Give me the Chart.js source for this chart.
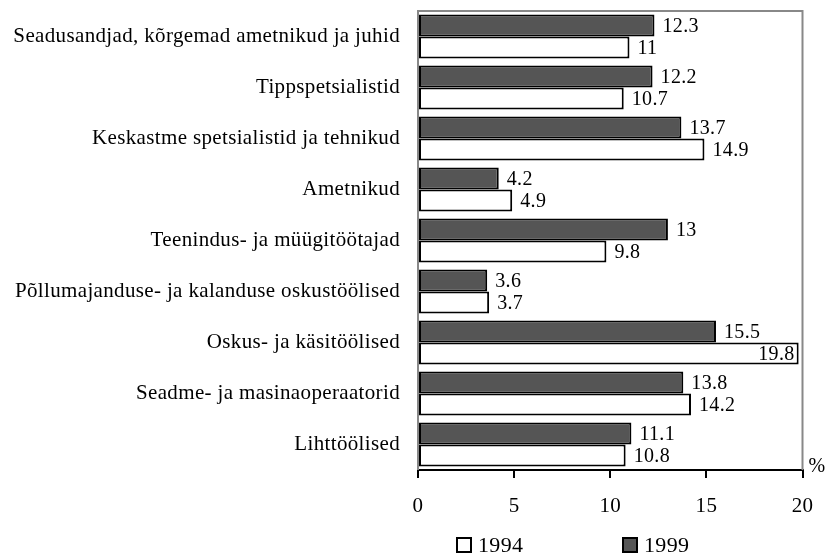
<!DOCTYPE html>
<html>
<head>
<meta charset="utf-8">
<script src="https://cdn.jsdelivr.net/npm/chart.js@4.4.1/dist/chart.umd.min.js"></script>
<style>
  body { margin: 0; background: #ffffff; }
  #wrap { width: 829px; height: 557px; }
</style>
</head>
<body>
<div id="wrap"><canvas id="chart"></canvas></div>
<script>
var categories = [
  'Seadusandjad, kõrgemad ametnikud ja juhid',
  'Tippspetsialistid',
  'Keskastme spetsialistid ja tehnikud',
  'Ametnikud',
  'Teenindus- ja müügitöötajad',
  'Põllumajanduse- ja kalanduse oskustöölised',
  'Oskus- ja käsitöölised',
  'Seadme- ja masinaoperaatorid',
  'Lihttöölised'
];
var values1999 = [12.3, 12.2, 13.7, 4.2, 13, 3.6, 15.5, 13.8, 11.1];
var values1994 = [11, 10.7, 14.9, 4.9, 9.8, 3.7, 19.8, 14.2, 10.8];
var xTicks = [0, 5, 10, 15, 20];

var serif = '"Liberation Serif", "Times New Roman", serif';

// slightly spaced text like the original
var spacingPlugin = {
  id: 'spacing',
  beforeDraw: function(chart) { chart.ctx.letterSpacing = '0.35px'; }
};

// gray frame on top, right and left of the plot
var framePlugin = {
  id: 'frame',
  beforeDatasetsDraw: function(chart) {
    var a = chart.chartArea, ctx = chart.ctx;
    ctx.save();
    ctx.strokeStyle = '#888888';
    ctx.lineWidth = 2;
    ctx.beginPath();
    ctx.moveTo(a.left, a.bottom);
    ctx.lineTo(a.left, a.top);
    ctx.lineTo(a.right, a.top);
    ctx.lineTo(a.right, a.bottom);
    ctx.stroke();
    ctx.restore();
  }
};

// value labels at bar ends, the % sign and the legend
var labelPlugin = {
  id: 'valueLabels',
  afterDatasetsDraw: function(chart) {
    var ctx = chart.ctx, a = chart.chartArea;
    ctx.save();
    ctx.font = '20px ' + serif;
    ctx.fillStyle = '#000000';
    ctx.textBaseline = 'middle';
    chart.data.datasets.forEach(function(ds, i) {
      chart.getDatasetMeta(i).data.forEach(function(bar, j) {
        var txt = String(ds.data[j]);
        var w = ctx.measureText(txt).width;
        if (bar.x + 8 + w > a.right) {
          ctx.textAlign = 'right';
          ctx.fillText(txt, bar.x - 4, bar.y + 1);
        } else {
          ctx.textAlign = 'left';
          ctx.fillText(txt, bar.x + 8, bar.y + 1);
        }
      });
    });
    ctx.textAlign = 'left';
    ctx.fillText('%', a.right + 6, a.bottom - 3);

    // legend: 1994 first, then 1999
    ctx.font = '22px ' + serif;
    var legendX = [456, 622];
    var ly = 545;
    [1, 0].forEach(function(di, k) {
      var ds = chart.data.datasets[di];
      ctx.fillStyle = ds.backgroundColor;
      ctx.fillRect(legendX[k], ly - 8, 16, 16);
      ctx.strokeStyle = '#000000';
      ctx.lineWidth = 2;
      ctx.strokeRect(legendX[k] + 1, ly - 7, 14, 14);
      ctx.fillStyle = '#000000';
      ctx.fillText(ds.label, legendX[k] + 22, ly + 1);
    });
    ctx.restore();
  }
};

new Chart(document.getElementById('chart'), {
  type: 'bar',
  data: {
    labels: categories,
    datasets: [
      {
        label: '1999',
        data: values1999,
        backgroundColor: '#555555',
        borderColor: '#000000',
        borderWidth: 2,
        borderSkipped: false
      },
      {
        label: '1994',
        data: values1994,
        backgroundColor: '#ffffff',
        borderColor: '#000000',
        borderWidth: 2,
        borderSkipped: false
      }
    ]
  },
  options: {
    indexAxis: 'y',
    responsive: true,
    maintainAspectRatio: false,
    animation: false,
    categoryPercentage: 0.86,
    barPercentage: 1,
    layout: { padding: { top: 11, right: 23, left: 0, bottom: 0 } },
    scales: {
      x: {
        min: 0,
        max: 20,
        afterBuildTicks: function(scale) {
          scale.ticks = xTicks.map(function(v) { return { value: v }; });
        },
        afterFit: function(scale) { scale.height = 87; },
        grid: { drawOnChartArea: false, drawTicks: true, tickLength: 8, color: '#000000', lineWidth: 2 },
        border: { display: true, color: '#000000', width: 2 },
        ticks: { color: '#000000', padding: 16, maxRotation: 0, font: { family: serif, size: 21 } }
      },
      y: {
        afterFit: function(scale) {
          scale.width = 418;
          scale.paddingTop = 0;
          scale.paddingBottom = 0;
        },
        grid: { display: false },
        border: { display: false },
        ticks: { color: '#000000', padding: 10, font: { family: serif, size: 21 } }
      }
    },
    plugins: {
      legend: { display: false },
      tooltip: { enabled: false }
    }
  },
  plugins: [spacingPlugin, framePlugin, labelPlugin]
});
</script>
</body>
</html>
